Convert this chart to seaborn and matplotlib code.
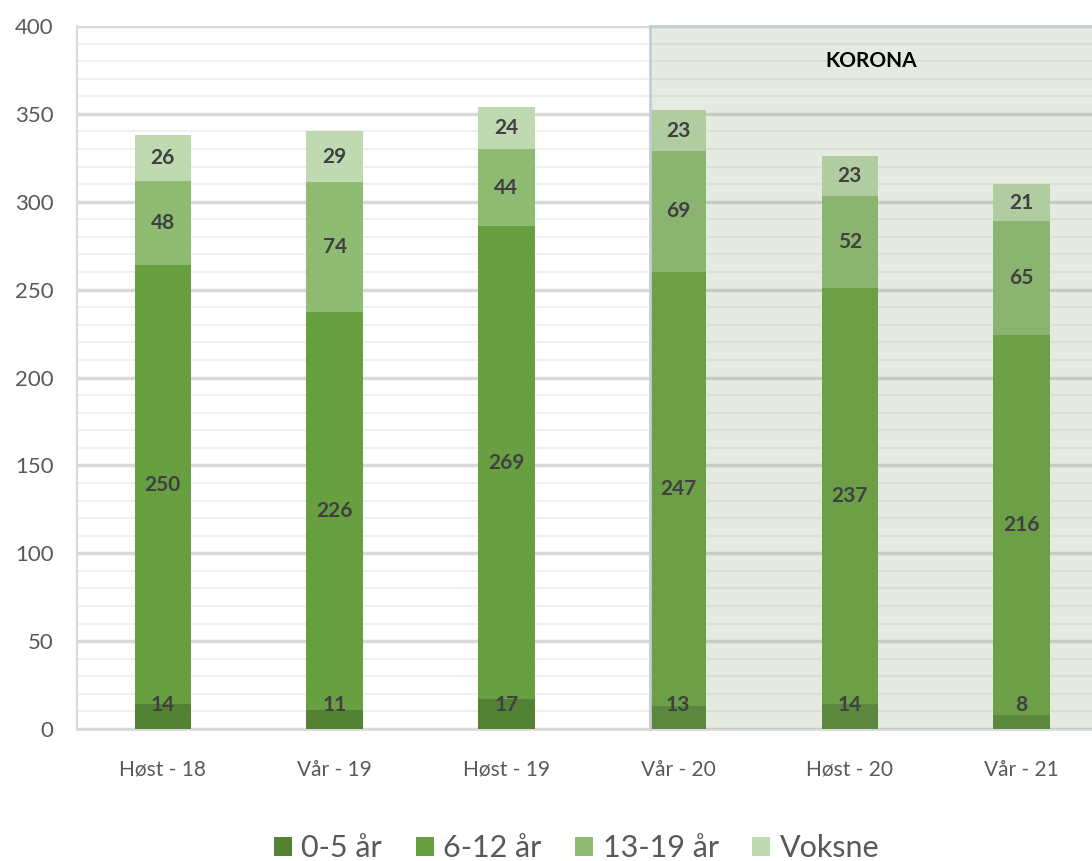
import matplotlib
matplotlib.use("Agg")
import matplotlib.pyplot as plt
import pandas as pd
import seaborn as sns
from matplotlib.patches import Rectangle
from matplotlib.ticker import MultipleLocator

semestre = ["Høst - 18", "Vår - 19", "Høst - 19", "Vår - 20", "Høst - 20", "Vår - 21"]
grupper = ["0-5 år", "6-12 år", "13-19 år", "Voksne"]
age_0_5 = [14, 11, 17, 13, 14, 8]
age_6_12 = [250, 226, 269, 247, 237, 216]
age_13_19 = [48, 74, 44, 69, 52, 65]
voksne = [26, 29, 24, 23, 23, 21]
farger = ["#548235", "#68a041", "#8fbb72", "#bfd9b0"]

df = pd.DataFrame({"semester": semestre, "0-5 år": age_0_5, "6-12 år": age_6_12,
                   "13-19 år": age_13_19, "Voksne": voksne})
cum = df[grupper].cumsum(axis=1)

sns.set_theme(style="white")
plt.rcParams['font.family'] = ['Lato', 'DejaVu Sans']

fig = plt.figure(figsize=(10.92, 8.61), dpi=100)
ax = fig.add_axes([0.0705, 0.1533, 0.9295, 0.8165])

# stacked bars: draw cumulative totals from top down
for g, c in reversed(list(zip(grupper, farger))):
    sns.barplot(x=df["semester"], y=cum[g], color=c, width=0.33, ax=ax,
                saturation=1, label=g, zorder=3, linewidth=0)
if ax.get_legend() is not None:
    ax.get_legend().remove()

# data labels
for i in range(len(semestre)):
    bunn = 0
    for g in grupper:
        v = df[g][i]
        ymid = bunn + v / 2 if g != "0-5 år" else max(bunn + v / 2, 13.5)
        ax.text(i, ymid, str(v), ha="center", va="center", fontsize=15,
                fontweight="bold", color="#404040", zorder=5)
        bunn += v

ax.set_xlim(-0.5, 5.41)
ax.set_ylim(0, 400)
ax.yaxis.set_major_locator(MultipleLocator(50))
ax.yaxis.set_minor_locator(MultipleLocator(10))
ax.grid(axis="y", which="major", color="#d9d9d9", linewidth=2.5, zorder=1)
ax.grid(axis="y", which="minor", color="#f0f0f0", linewidth=1.5, zorder=0)
ax.set_axisbelow(True)

# korona overlay
x0 = 3 - 0.165
ax.add_patch(Rectangle((x0, 0), 6, 400, facecolor=(0.49, 0.61, 0.41), alpha=0.2,
                       edgecolor="none", zorder=4))
ax.plot([x0, x0], [0, 400], color="#c5ccd4", lw=2, zorder=4, clip_on=False)
ax.plot([x0, 5.41], [400, 400], color="#c5ccd4", lw=2, zorder=4, clip_on=False)
ax.text((x0 + 5.41) / 2, 380, "KORONA", ha="center", va="center",
        fontsize=15, fontweight="bold", color="black", zorder=5)

for s in ["top", "right"]:
    ax.spines[s].set_visible(False)
ax.spines["left"].set_color("#d9d9d9")
ax.spines["bottom"].set_color("#d9d9d9")
ax.spines["left"].set_linewidth(1.5)
ax.spines["bottom"].set_linewidth(2)
ax.tick_params(axis="y", which="major", length=8, width=2, color="#d9d9d9",
               labelsize=16, labelcolor="#595959", pad=9)
ax.tick_params(axis="y", which="minor", length=0)
ax.tick_params(axis="x", length=0, labelsize=15, labelcolor="#595959", pad=22)
ax.set_xlabel("")
ax.set_ylabel("")

handles, labels = ax.get_legend_handles_labels()
order = [labels.index(g) for g in grupper]
fig.legend([handles[k] for k in order], grupper, loc="center",
           bbox_to_anchor=(0.528, 0.015), ncol=4, frameon=False, fontsize=22,
           labelcolor="#595959", handlelength=0.6, handleheight=0.6,
           handletextpad=0.3, columnspacing=1.1)

fig.savefig("out.png", dpi=100)
